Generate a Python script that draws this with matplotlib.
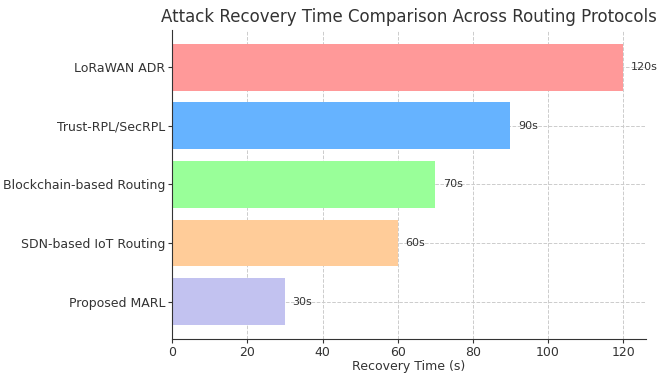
import matplotlib.pyplot as plt

protocols = ["Proposed MARL", "SDN-based IoT Routing", "Blockchain-based Routing",
             "Trust-RPL/SecRPL", "LoRaWAN ADR"]
recovery_time = [30, 60, 70, 90, 120]
bar_colors = ["#c2c2f0", "#ffcc99", "#99ff99", "#66b3ff", "#ff9999"]

fig = plt.figure(figsize=(6.57, 3.78), dpi=100)
ax = fig.add_axes([0.262, 0.103, 0.721, 0.818])

bars = ax.barh(protocols, recovery_time, color=bar_colors, height=0.8, zorder=2)
for bar, val in zip(bars, recovery_time):
    ax.text(bar.get_width() + 2, bar.get_y() + bar.get_height() / 2, f"{val}s",
            va="center", ha="left", fontsize=8, color="#333333")

ax.set_xlim(0, 126)
ax.set_xlabel("Recovery Time (s)", fontsize=9, color="#333333", labelpad=1)
ax.set_title("Attack Recovery Time Comparison Across Routing Protocols",
             fontsize=12, color="#333333")
ax.tick_params(labelsize=9, colors="#333333", length=3, pad=2)
ax.grid(True, linestyle="--", color="#cccccc", linewidth=0.7, zorder=0)
ax.set_axisbelow(True)
ax.spines["top"].set_visible(False)
ax.spines["right"].set_visible(False)
ax.spines["left"].set_color("#333333")
ax.spines["bottom"].set_color("#333333")

fig.savefig("out.png", dpi=100)
